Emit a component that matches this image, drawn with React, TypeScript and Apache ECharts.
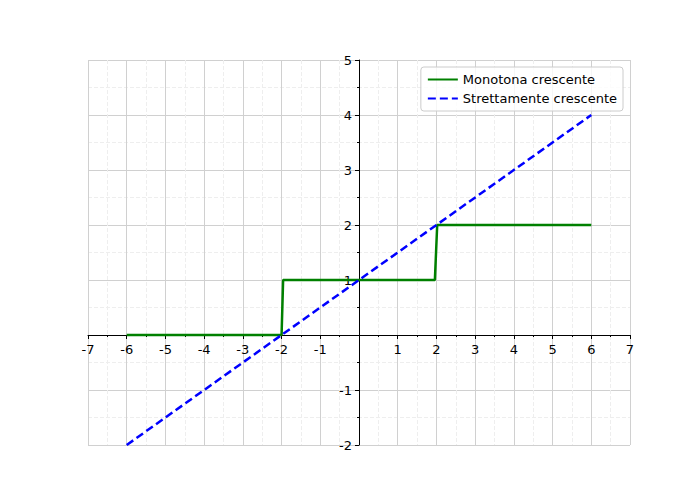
import * as echarts from "echarts";
import { useEffect, useRef } from "react";

const monotoneData: [number, number][] = [
  [-6, 0], [-2, 0], [-1.96, 1], [1.96, 1], [2.02, 2], [6, 2],
];
const strictData: [number, number][] = [
  [-6, -2], [6, 4],
];

export default function App() {
  const ref = useRef<HTMLDivElement | null>(null);

  useEffect(() => {
    document.body.style.margin = "0";
    const el = ref.current;
    if (!el) return;
    const chart = echarts.init(el, undefined, { renderer: "svg" });

    const fmt = (v: number) => (v === 0 ? "" : String(v));
    const common = {
      type: "value" as const,
      interval: 1,
      axisLine: { onZero: true, lineStyle: { color: "#000", width: 1 } },
      axisTick: { show: true, length: 4, lineStyle: { color: "#000" } },
      minorTick: { show: true, splitNumber: 2, length: 2, lineStyle: { color: "#000" } },
      splitLine: { show: true, lineStyle: { color: "#d0d0d0", width: 1 } },
      minorSplitLine: { show: true, lineStyle: { color: "#eeeeee", type: "dashed" } },
    };
    const label = { color: "#000", fontSize: 13, formatter: fmt, fontFamily: "DejaVu Sans" };

    chart.setOption({
      animation: false,
      textStyle: { fontFamily: "DejaVu Sans" },
      grid: { left: 88, right: 70, top: 60, bottom: 55 },
      xAxis: { ...common, min: -7, max: 7, axisLabel: { ...label, margin: -102 } },
      yAxis: { ...common, min: -2, max: 5, axisLabel: { ...label, margin: -264 } },
      legend: {
        orient: "vertical",
        right: 77,
        top: 67,
        itemWidth: 30,
        itemGap: 6,
        padding: [6, 6, 6, 6],
        borderColor: "#ccc",
        borderWidth: 1,
        borderRadius: 3,
        backgroundColor: "rgba(255,255,255,0.8)",
        itemStyle: { opacity: 0 },
        textStyle: { fontSize: 13, color: "#000" },
        data: ["Monotona crescente", "Strettamente crescente"],
      },
      series: [
        {
          name: "Monotona crescente",
          type: "line",
          data: monotoneData,
          symbol: "none",
          lineStyle: { color: "#008000", width: 2.5 },
          itemStyle: { color: "#008000" },
        },
        {
          name: "Strettamente crescente",
          type: "line",
          data: strictData,
          symbol: "none",
          lineStyle: { color: "#0000ff", width: 2.5, type: [8, 4] },
          itemStyle: { color: "#0000ff" },
        },
      ],
    });

    return () => chart.dispose();
  }, []);

  return <div ref={ref} style={{ width: 700, height: 500 }} />;
}
